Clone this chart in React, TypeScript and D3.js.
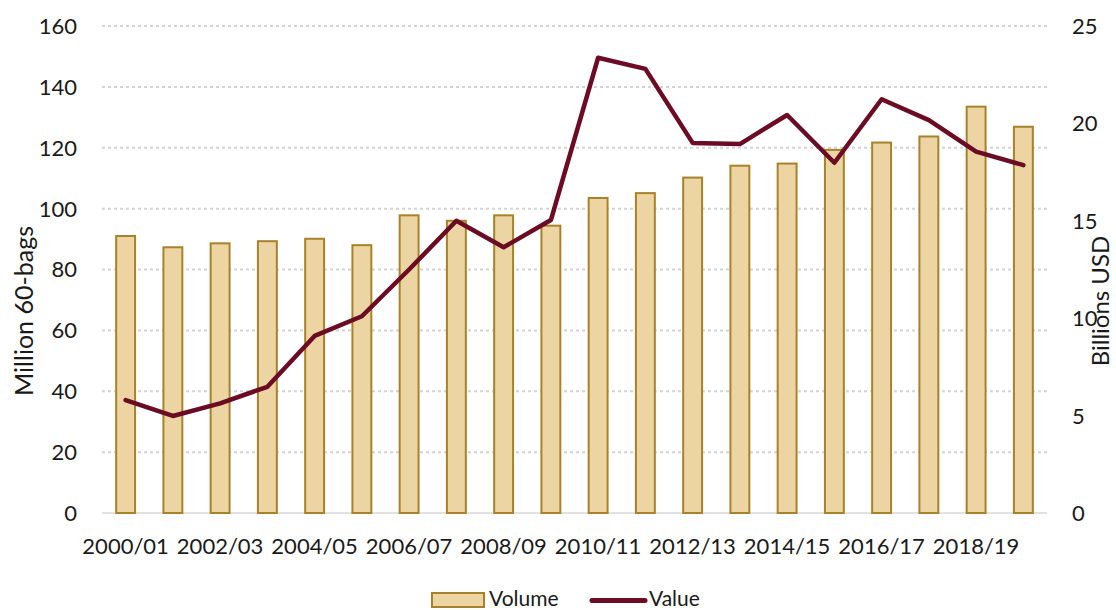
import React from "react";
import * as d3 from "d3";

const categories = [
  "2000/01", "2001/02", "2002/03", "2003/04", "2004/05", "2005/06", "2006/07", "2007/08",
  "2008/09", "2009/10", "2010/11", "2011/12", "2012/13", "2013/14", "2014/15", "2015/16",
  "2016/17", "2017/18", "2018/19", "2019/20",
];
const volume = [
  91.0, 87.3, 88.6, 89.3, 90.1, 88.0, 97.8, 96.0, 97.8, 94.4,
  103.5, 105.1, 110.2, 114.1, 114.8, 119.3, 121.7, 123.7, 133.5, 126.9,
];
const value = [
  5.8, 4.98, 5.63, 6.48, 9.09, 10.1, 12.5, 15.0, 13.64, 15.04,
  23.37, 22.8, 19.0, 18.94, 20.43, 17.98, 21.24, 20.17, 18.55, 17.86,
];
const leftTicks = [0, 20, 40, 60, 80, 100, 120, 140, 160];
const rightTicks = [0, 5, 10, 15, 20, 25];

const W = 1116;
const H = 610;
const M = { left: 102, right: 1047, top: 26, bottom: 513 };
const FONT = "Lato, 'Open Sans', sans-serif";
const TEXT = "#1a1a1a";
const BAR_FILL = "#EDD5A3";
const BAR_STROKE = "#A8822A";
const LINE = "#6B0C24";

export default function App() {
  const x = d3
    .scaleBand<string>()
    .domain(categories)
    .range([M.left, M.right])
    .paddingInner(0.6)
    .paddingOuter(0.3);
  const yL = d3.scaleLinear().domain([0, 160]).range([M.bottom, M.top]);
  const yR = d3.scaleLinear().domain([0, 25]).range([M.bottom, M.top]);
  const cx = (c: string) => (x(c) as number) + x.bandwidth() / 2;

  const line = d3
    .line<number>()
    .x((_, i) => cx(categories[i]))
    .y((d) => yR(d));

  return (
    <svg
      width={W}
      height={H}
      style={{ position: "absolute", left: 0, top: 0, background: "#fff" }}
      fontFamily={FONT}
    >
      {/* gridlines */}
      {leftTicks.filter((t) => t !== 0).map((t) => (
        <line
          key={t}
          x1={M.left}
          x2={M.right}
          y1={yL(t)}
          y2={yL(t)}
          stroke="#D4D4D4"
          strokeWidth={2}
          strokeDasharray="3 3"
        />
      ))}
      <line x1={M.left} x2={M.right} y1={yL(0)} y2={yL(0)} stroke="#D9D9D9" strokeWidth={1.5} />

      {/* bars */}
      {volume.map((v, i) => (
        <rect
          key={i}
          x={x(categories[i]) as number}
          y={yL(v)}
          width={x.bandwidth()}
          height={yL(0) - yL(v)}
          fill={BAR_FILL}
          stroke={BAR_STROKE}
          strokeWidth={2}
        />
      ))}

      {/* line */}
      <path d={line(value) || ""} fill="none" stroke={LINE} strokeWidth={4.5} strokeLinejoin="round" strokeLinecap="round" />

      {/* left axis labels */}
      {leftTicks.map((t) => (
        <text key={t} x={77} y={yL(t)} dy="0.36em" textAnchor="end" fontSize={22} fill={TEXT}>
          {t}
        </text>
      ))}
      {/* right axis labels */}
      {rightTicks.map((t) => (
        <text key={t} x={1072} y={yR(t)} dy="0.36em" textAnchor="start" fontSize={22} fill={TEXT}>
          {t}
        </text>
      ))}
      {/* x labels */}
      {categories.map((c, i) =>
        i % 2 === 0 ? (
          <text key={c} x={cx(c)} y={554} textAnchor="middle" fontSize={22} fill={TEXT}>
            {c}
          </text>
        ) : null
      )}

      {/* axis titles */}
      <text
        transform={`translate(33,${311}) rotate(-90)`}
        textAnchor="middle"
        fontSize={25}
        fill={TEXT}
      >
        Million 60-bags
      </text>
      <text
        transform={`translate(1109,${301}) rotate(-90)`}
        textAnchor="middle"
        fontSize={24}
        fill={TEXT}
      >
        Billions USD
      </text>

      {/* legend */}
      <rect x={432} y={593} width={52} height={14} fill={BAR_FILL} stroke={BAR_STROKE} strokeWidth={2} />
      <text x={489} y={606} fontSize={21} fill={TEXT}>
        Volume
      </text>
      <line x1={592} x2={645} y1={600.5} y2={600.5} stroke={LINE} strokeWidth={5} strokeLinecap="round" />
      <text x={649} y={606} fontSize={21} fill={TEXT}>
        Value
      </text>
    </svg>
  );
}
